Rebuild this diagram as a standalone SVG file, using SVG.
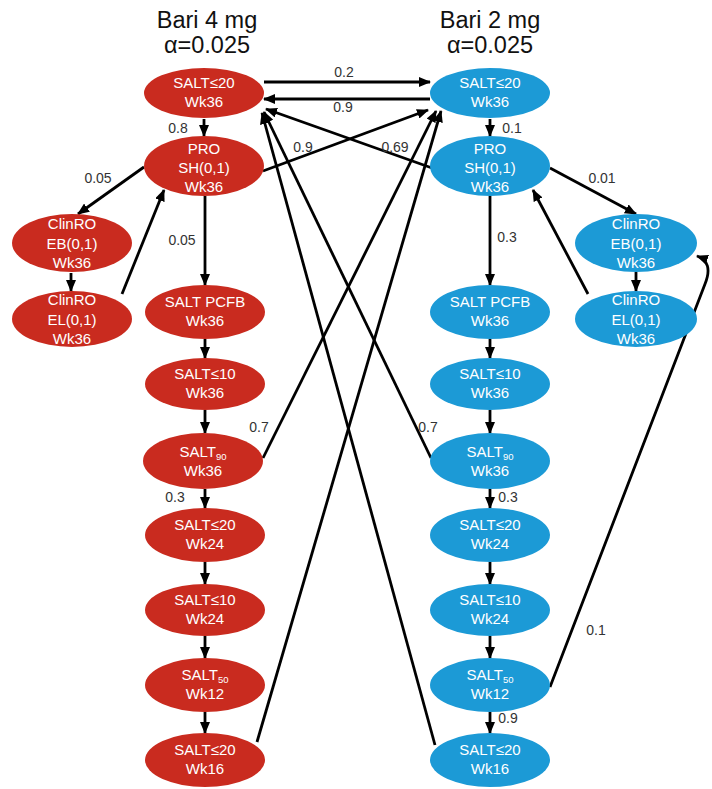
<svg xmlns="http://www.w3.org/2000/svg" width="712" height="789" viewBox="0 0 712 789">
<style>
.title{font-family:"Liberation Sans",Arial,sans-serif;font-size:23.5px;fill:#111;text-anchor:middle}
.red{fill:#C92B1F}
.blue{fill:#1C9AD6}
.nt{font-family:"Liberation Sans",Arial,sans-serif;font-size:15px;fill:#fff;text-anchor:middle}
.sub{font-size:9.5px}
.lbl{font-family:"Liberation Sans",Arial,sans-serif;font-size:14px;fill:#333;text-anchor:middle}
.c{fill:none;stroke:#000;stroke-width:2.8;marker-end:url(#ah)}
</style>
<defs>
<marker id="ah" markerUnits="userSpaceOnUse" markerWidth="12" markerHeight="10" refX="11" refY="5" orient="auto">
<path d="M0,0 L12,5 L0,10 z" fill="#000"/>
</marker>
</defs>
<rect width="712" height="789" fill="#fff"/>
<text class="title" x="207" y="28">Bari 4 mg</text>
<text class="title" x="207" y="53">α=0.025</text>
<text class="title" x="490" y="28">Bari 2 mg</text>
<text class="title" x="490" y="53">α=0.025</text>

<g id="connectors">
<path class="c" d="M264,82 L430,82"/>
<path class="c" d="M430,99 L264,99"/>
<path class="c" d="M204,119 L204,136"/>
<path class="c" d="M490,119 L490,136"/>
<path class="c" d="M144,167 L78,214"/>
<path class="c" d="M71,273 L71,291"/>
<path class="c" d="M122,294 L164,190"/>
<path class="c" d="M205,196 L205,285"/>
<path class="c" d="M205,339 L205,358"/>
<path class="c" d="M205,410 L205,433"/>
<path class="c" d="M205,489 L205,508"/>
<path class="c" d="M205,562 L205,584"/>
<path class="c" d="M205,636 L205,658"/>
<path class="c" d="M205,712 L205,733"/>
<path class="c" d="M550,168 L636,214"/>
<path class="c" d="M636,272 L636,291"/>
<path class="c" d="M588,294 L533,190"/>
<path class="c" d="M490,196 L490,285"/>
<path class="c" d="M490,339 L490,358"/>
<path class="c" d="M490,410 L490,433"/>
<path class="c" d="M490,489 L490,508"/>
<path class="c" d="M490,562 L490,584"/>
<path class="c" d="M490,636 L490,658"/>
<path class="c" d="M490,712 L490,733"/>
<path class="c" d="M263,171 L428,110"/>
<path class="c" d="M432,168 L266,109"/>
<path class="c" d="M263,458 L436,111"/>
<path class="c" d="M257,742 L441,111"/>
<path class="c" d="M431,458 L264,112"/>
<path class="c" d="M435,745 L262,113"/>
<path class="c" d="M550,687 L705,284 C711,269 708,260 697,256"/>
</g>

<g id="labels">
<text class="lbl" x="344" y="77">0.2</text>
<text class="lbl" x="343" y="112">0.9</text>
<text class="lbl" x="178" y="133">0.8</text>
<text class="lbl" x="512" y="133">0.1</text>
<text class="lbl" x="303" y="152">0.9</text>
<text class="lbl" x="395" y="152">0.69</text>
<text class="lbl" x="98" y="183">0.05</text>
<text class="lbl" x="182" y="245">0.05</text>
<text class="lbl" x="602" y="183">0.01</text>
<text class="lbl" x="507" y="242">0.3</text>
<text class="lbl" x="259" y="432">0.7</text>
<text class="lbl" x="428" y="432">0.7</text>
<text class="lbl" x="175" y="502">0.3</text>
<text class="lbl" x="508" y="502">0.3</text>
<text class="lbl" x="508" y="723">0.9</text>
<text class="lbl" x="596" y="635">0.1</text>
</g>

<g id="L1"><ellipse class="red" cx="204" cy="93" rx="60" ry="25"/><text class="nt" x="204" y="88">SALT≤20</text><text class="nt" x="204" y="107">Wk36</text></g>
<g id="L2"><ellipse class="red" cx="204" cy="166" rx="60" ry="30"/><text class="nt" x="204" y="154">PRO</text><text class="nt" x="204" y="173">SH(0,1)</text><text class="nt" x="204" y="192">Wk36</text></g>
<g id="L3"><ellipse class="red" cx="72" cy="243" rx="60" ry="29"/><text class="nt" x="72" y="229">ClinRO</text><text class="nt" x="72" y="249">EB(0,1)</text><text class="nt" x="72" y="268">Wk36</text></g>
<g id="L4"><ellipse class="red" cx="72" cy="319" rx="60" ry="28"/><text class="nt" x="72" y="305">ClinRO</text><text class="nt" x="72" y="325">EL(0,1)</text><text class="nt" x="72" y="344">Wk36</text></g>
<g id="L5"><ellipse class="red" cx="205" cy="312" rx="60" ry="27"/><text class="nt" x="205" y="307">SALT PCFB</text><text class="nt" x="205" y="326">Wk36</text></g>
<g id="L6"><ellipse class="red" cx="205" cy="384" rx="60" ry="26"/><text class="nt" x="205" y="379">SALT≤10</text><text class="nt" x="205" y="398">Wk36</text></g>
<g id="L7"><ellipse class="red" cx="203" cy="461" rx="60" ry="28"/><text class="nt" x="203" y="457">SALT<tspan class="sub" dy="3">90</tspan></text><text class="nt" x="203" y="476">Wk36</text></g>
<g id="L8"><ellipse class="red" cx="205" cy="535" rx="60" ry="27"/><text class="nt" x="205" y="530">SALT≤20</text><text class="nt" x="205" y="549">Wk24</text></g>
<g id="L9"><ellipse class="red" cx="205" cy="610" rx="60" ry="26"/><text class="nt" x="205" y="605">SALT≤10</text><text class="nt" x="205" y="624">Wk24</text></g>
<g id="L10"><ellipse class="red" cx="205" cy="685" rx="60" ry="27"/><text class="nt" x="205" y="680">SALT<tspan class="sub" dy="3">50</tspan></text><text class="nt" x="205" y="699">Wk12</text></g>
<g id="L11"><ellipse class="red" cx="205" cy="760" rx="60" ry="27"/><text class="nt" x="205" y="755">SALT≤20</text><text class="nt" x="205" y="774">Wk16</text></g>

<g id="R1"><ellipse class="blue" cx="490" cy="93" rx="60" ry="25"/><text class="nt" x="490" y="88">SALT≤20</text><text class="nt" x="490" y="107">Wk36</text></g>
<g id="R2"><ellipse class="blue" cx="490" cy="166" rx="60" ry="30"/><text class="nt" x="490" y="154">PRO</text><text class="nt" x="490" y="173">SH(0,1)</text><text class="nt" x="490" y="192">Wk36</text></g>
<g id="R3"><ellipse class="blue" cx="636" cy="243" rx="61" ry="29"/><text class="nt" x="636" y="229">ClinRO</text><text class="nt" x="636" y="249">EB(0,1)</text><text class="nt" x="636" y="268">Wk36</text></g>
<g id="R4"><ellipse class="blue" cx="636" cy="319" rx="61" ry="28"/><text class="nt" x="636" y="305">ClinRO</text><text class="nt" x="636" y="325">EL(0,1)</text><text class="nt" x="636" y="344">Wk36</text></g>
<g id="R5"><ellipse class="blue" cx="490" cy="312" rx="60" ry="27"/><text class="nt" x="490" y="307">SALT PCFB</text><text class="nt" x="490" y="326">Wk36</text></g>
<g id="R6"><ellipse class="blue" cx="490" cy="384" rx="60" ry="26"/><text class="nt" x="490" y="379">SALT≤10</text><text class="nt" x="490" y="398">Wk36</text></g>
<g id="R7"><ellipse class="blue" cx="490" cy="461" rx="60" ry="28"/><text class="nt" x="490" y="457">SALT<tspan class="sub" dy="3">90</tspan></text><text class="nt" x="490" y="476">Wk36</text></g>
<g id="R8"><ellipse class="blue" cx="490" cy="535" rx="60" ry="27"/><text class="nt" x="490" y="530">SALT≤20</text><text class="nt" x="490" y="549">Wk24</text></g>
<g id="R9"><ellipse class="blue" cx="490" cy="610" rx="60" ry="26"/><text class="nt" x="490" y="605">SALT≤10</text><text class="nt" x="490" y="624">Wk24</text></g>
<g id="R10"><ellipse class="blue" cx="490" cy="685" rx="60" ry="27"/><text class="nt" x="490" y="680">SALT<tspan class="sub" dy="3">50</tspan></text><text class="nt" x="490" y="699">Wk12</text></g>
<g id="R11"><ellipse class="blue" cx="490" cy="760" rx="60" ry="27"/><text class="nt" x="490" y="755">SALT≤20</text><text class="nt" x="490" y="774">Wk16</text></g>
</svg>
